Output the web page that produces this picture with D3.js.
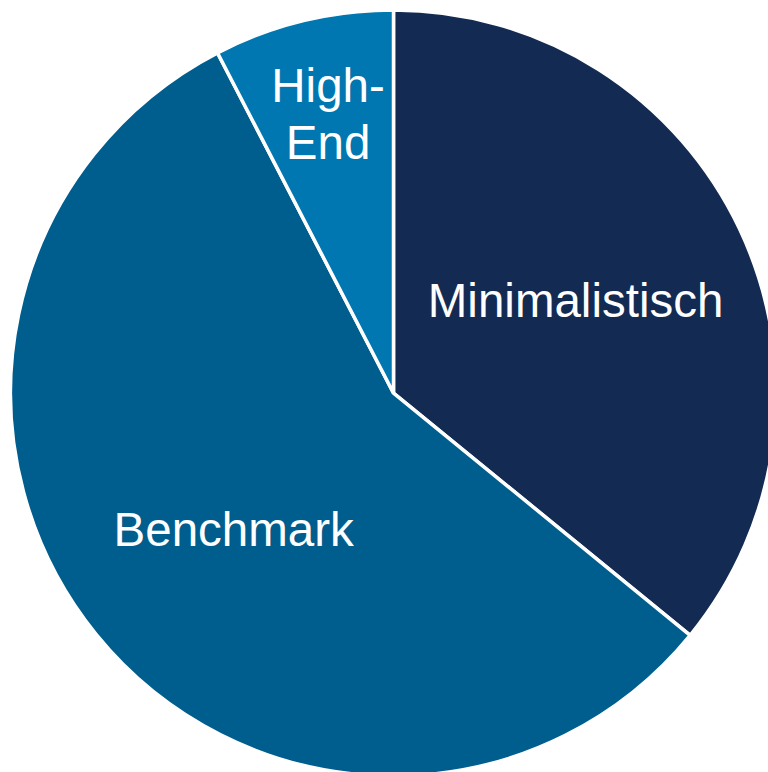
<!DOCTYPE html>
<html>
<head>
<meta charset="utf-8">
<script src="https://cdn.jsdelivr.net/npm/d3@7"></script>
<style>
  html, body { margin: 0; padding: 0; background: #ffffff; }
  svg { display: block; }
</style>
</head>
<body>
<svg id="chart" width="768" height="772"></svg>
<script>
const categories = ["Minimalistisch", "Benchmark", "High-End"];
const values = [35.9, 56.5, 7.6];
const labelLines = [["Minimalistisch"], ["Benchmark"], ["High-", "End"]];
const colors = ["#132b52", "#005e8e", "#0077b0"];

const cx = 393.5, cy = 393, radius = 383;
// label placement (layout constants): radius and angular nudge in degrees
const labelRadius = [204.5, 210, 287];
const labelAngleNudge = [-1.7, -1.4, 0.5];
const fontSize = 47.5, lineHeight = 57;

const svg = d3.select("#chart");
const g = svg.append("g").attr("transform", `translate(${cx},${cy})`);

const data = categories.map((c, i) => ({ name: c, value: values[i], i }));
const pie = d3.pie().value(d => d.value).sort(null);
const arcs = pie(data);
const arc = d3.arc().innerRadius(0).outerRadius(radius);

g.selectAll("path.slice")
  .data(arcs)
  .join("path")
  .attr("class", "slice")
  .attr("d", arc)
  .attr("fill", d => colors[d.data.i])
  .attr("stroke", "#ffffff")
  .attr("stroke-width", 3.5)
  .attr("stroke-linejoin", "miter");

const labels = g.selectAll("text.label")
  .data(arcs)
  .join("text")
  .attr("class", "label")
  .attr("font-family", "Liberation Sans, Arial, sans-serif")
  .attr("font-size", fontSize)
  .attr("fill", "#ffffff")
  .attr("text-anchor", "middle")
  .attr("transform", d => {
    const i = d.data.i;
    const a = (d.startAngle + d.endAngle) / 2 + labelAngleNudge[i] * Math.PI / 180;
    const r = labelRadius[i];
    return `translate(${r * Math.sin(a)},${-r * Math.cos(a)})`;
  });

labels.each(function(d) {
  const lines = labelLines[d.data.i];
  const n = lines.length;
  const t = d3.select(this);
  lines.forEach((ln, k) => {
    t.append("tspan")
      .attr("x", 0)
      .attr("y", (k - (n - 1) / 2) * lineHeight + fontSize * 0.358)
      .text(ln);
  });
});
</script>
</body>
</html>
